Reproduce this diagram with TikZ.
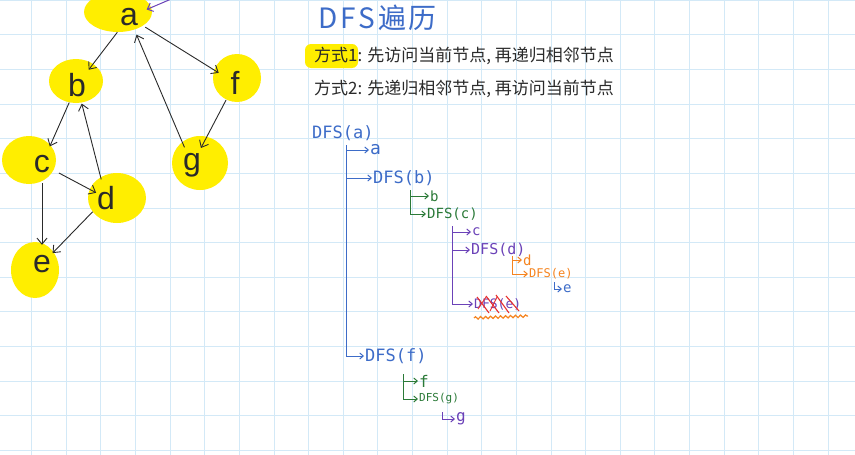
\documentclass[tikz,border=0pt]{standalone}
\usepackage{fontspec}
\setmainfont{Liberation Sans}
\newfontfamily\cjk{Noto Sans CJK SC}
\newfontfamily\monof{DejaVu Sans Mono}
\usetikzlibrary{arrows.meta,decorations.pathmorphing}
\definecolor{gridc}{HTML}{D3E9F7}
\definecolor{hl}{HTML}{FFEE00}
\definecolor{tblue}{HTML}{3D6CC8}
\definecolor{tgreen}{HTML}{2B7A38}
\definecolor{tpurple}{HTML}{6B42B8}
\definecolor{torange}{HTML}{F5841F}
\definecolor{tred}{HTML}{E8302F}
\definecolor{ink}{HTML}{2A2A2A}
\begin{document}
\begin{tikzpicture}[x=1pt,y=-1pt,
  vtx/.style={circle,minimum size=38pt,inner sep=0pt,text=ink,font=\fontsize{32}{32}\selectfont},
  edge/.style={draw=ink,line width=0.9pt,-{Straight Barb[length=6pt,width=10pt]}},
  hook/.style={line width=1pt,-{Straight Barb[length=3.5pt,width=6pt]}},
  tt/.style={anchor=west,inner sep=1pt}
]
\useasboundingbox (0,0) rectangle (855,455);
\fill[white] (0,0) rectangle (855,455);
% grid
\foreach \i in {0,...,23} \draw[gridc,line width=0.9pt] ({31.7+34.62*\i},0) -- ({31.7+34.62*\i},455);
\foreach \j in {0,...,13} \draw[gridc,line width=0.9pt] (0,{0.3+34.62*\j}) -- (855,{0.3+34.62*\j});

% yellow blobs
\fill[hl] (118,12) ellipse [x radius=34, y radius=20];
\fill[hl] (76,81) ellipse [x radius=27, y radius=22];
\fill[hl] (29,160) ellipse [x radius=27, y radius=24];
\fill[hl] (117,198) ellipse [x radius=29, y radius=25];
\fill[hl] (35,270) ellipse [x radius=24, y radius=28];
\fill[hl] (237,78) ellipse [x radius=24, y radius=24];
\fill[hl] (200,163) ellipse [x radius=28, y radius=27];

% vertices
\node[vtx] (a) at (129,17) {a};
\node[vtx] (b) at (77,85) {b};
\node[vtx] (c) at (42,164) {c};
\node[vtx] (d) at (106,198) {d};
\node[vtx] (e) at (42,264) {e};
\node[vtx] (f) at (235,83) {f};
\node[vtx] (g) at (192,165) {g};

\draw[edge] (a) -- (b);
\draw[edge] (a) -- (f);
\draw[edge] (g) -- (a);
\draw[edge] (f) -- (g);
\draw[edge] (b) -- (c);
\draw[edge] (d) -- (b);
\draw[edge,shorten >=-8pt] (c) -- (d);
\draw[edge] (c) -- (e);
\draw[edge,shorten >=-4pt] (d) -- (e);
\coordinate (pa) at (176,-3);
\draw[draw=tpurple,line width=1pt,-{Straight Barb[length=5pt,width=9pt]}] (pa) -- (a);

% title and notes
\node[tt,text=tblue,font=\cjk\fontsize{28}{28}\selectfont] (title) at (317,18) {D\hspace{3pt}F\hspace{3pt}S\hspace{3pt}遍\hspace{2pt}历};
\fill[hl,rounded corners=6pt] (305,44) rectangle (358,68);
\node[tt,text=ink,font=\cjk\fontsize{17}{20}\selectfont] (m1) at (313,56) {方式1: 先访问当前节点, 再递归相邻节点};
\node[tt,text=ink,font=\cjk\fontsize{17}{20}\selectfont] (m2) at (313,89) {方式2: 先递归相邻节点, 再访问当前节点};

% tree: level 1 (blue)
\node[tt,text=tblue,font=\monof\fontsize{17}{17}\selectfont] (dfsa) at (311,133) {DFS(a)};
\coordinate (bt) at (346,145);
\node[tt,text=tblue,font=\monof\fontsize{18}{18}\selectfont] (na) at (369,150) {a};
\node[tt,text=tblue,font=\monof\fontsize{17}{17}\selectfont] (dfsb) at (372,178) {DFS(b)};
\node[tt,text=tblue,font=\monof\fontsize{17}{17}\selectfont] (dfsf) at (364,356) {DFS(f)};
\draw[hook,tblue] (bt |- na.west) -- (na.west);
\draw[hook,tblue] (bt |- dfsb.west) -- (dfsb.west);
\draw[hook,tblue] (bt) |- (dfsf.west);

% level 2 (green) under DFS(b)
\coordinate (gt) at (410,190);
\node[tt,text=tgreen,font=\monof\fontsize{14}{14}\selectfont] (nb) at (429,196) {b};
\node[tt,text=tgreen,font=\monof\fontsize{14}{14}\selectfont] (dfsc) at (426,214) {DFS(c)};
\draw[hook,tgreen] (gt |- nb.west) -- (nb.west);
\draw[hook,tgreen] (gt) |- (dfsc.west);

% level 3 (purple) under DFS(c)
\coordinate (pt) at (452,226);
\node[tt,text=tpurple,font=\monof\fontsize{14}{14}\selectfont] (nc) at (471,232) {c};
\node[tt,text=tpurple,font=\monof\fontsize{15}{15}\selectfont] (dfsd) at (470,250) {DFS(d)};
\node[tt,text=tpurple,font=\monof\fontsize{13}{13}\selectfont] (dfse1) at (473,304) {DFS(e)};
\draw[hook,tpurple] (pt |- nc.west) -- (nc.west);
\draw[hook,tpurple] (pt |- dfsd.west) -- (dfsd.west);
\draw[hook,tpurple] (pt) |- (dfse1.west);
\draw[tred,line width=1.1pt] (477,297) -- (489,313) (486,296) -- (499,313) (496,295) -- (509,313) (506,296) -- (519,311);
\draw[tred,line width=0.9pt] (478,309) -- (486,297) (490,311) -- (497,297);
\draw[torange,line width=1.2pt,decorate,decoration={snake,amplitude=1.2pt,segment length=5pt}] (474,318) -- (528,316);

% level 4 (orange) under DFS(d)
\coordinate (ot) at (512,256);
\node[tt,text=torange,font=\monof\fontsize{14}{14}\selectfont] (nd) at (522,260) {d};
\node[tt,text=torange,font=\monof\fontsize{12}{12}\selectfont] (dfse2) at (528,274) {DFS(e)};
\draw[hook,torange] (ot |- nd.west) -- (nd.west);
\draw[hook,torange] (ot) |- (dfse2.west);

% level 5 (blue) under DFS(e)
\coordinate (et) at (554,282);
\node[tt,text=tblue,font=\monof\fontsize{14}{14}\selectfont] (ne) at (562,289) {e};
\draw[hook,tblue] (et) |- (ne.west);

% under DFS(f) (green)
\coordinate (ft) at (403,374);
\node[tt,text=tgreen,font=\monof\fontsize{16}{16}\selectfont] (nf) at (418,381) {f};
\node[tt,text=tgreen,font=\monof\fontsize{11}{11}\selectfont] (dfsg) at (418,399) {DFS(g)};
\draw[hook,tgreen] (ft |- nf.west) -- (nf.west);
\draw[hook,tgreen] (ft) |- (dfsg.west);

% under DFS(g) (purple)
\coordinate (ggt) at (442,412);
\node[tt,text=tpurple,font=\monof\fontsize{16}{16}\selectfont] (ng) at (455,419) {g};
\draw[hook,tpurple] (ggt) |- (ng.west);
\end{tikzpicture}
\end{document}
